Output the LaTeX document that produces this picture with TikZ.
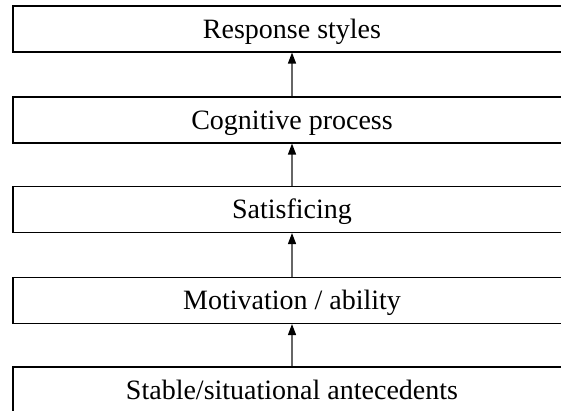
\documentclass[tikz,border=0pt]{standalone}
\usepackage{fontspec}
\setmainfont{Liberation Serif}
\usetikzlibrary{arrows.meta}
\begin{document}
\begin{tikzpicture}[x=1pt,y=-1pt,
  stagebox/.style={draw=black,line width=1.1pt,fill=white,minimum width=558pt,minimum height=46pt,inner sep=0pt,text height=18.5pt,text depth=0pt,font=\fontsize{28}{32}\selectfont},
  uparrow/.style={draw=black!60,line width=1.3pt,-{Triangle[length=11pt,width=8pt,black]}}]
\useasboundingbox (0,0) rectangle (561,411);
\clip (0,0) rectangle (561,411);
\fill[white] (0,0) rectangle (561,411);
\node[stagebox] (r) at (292,29) {Response styles};
\node[stagebox] (c) at (292,120) {Cognitive process};
\node[stagebox] (s) at (292,209.5) {Satisficing};
\node[stagebox] (m) at (292,300.5) {Motivation / ability};
\node[stagebox] (a) at (292,390) {Stable/situational antecedents};
\draw[uparrow] (c.north) -- (r.south);
\draw[uparrow] (s.north) -- (c.south);
\draw[uparrow] (m.north) -- (s.south);
\draw[uparrow] (a.north) -- (m.south);
\end{tikzpicture}
\end{document}
